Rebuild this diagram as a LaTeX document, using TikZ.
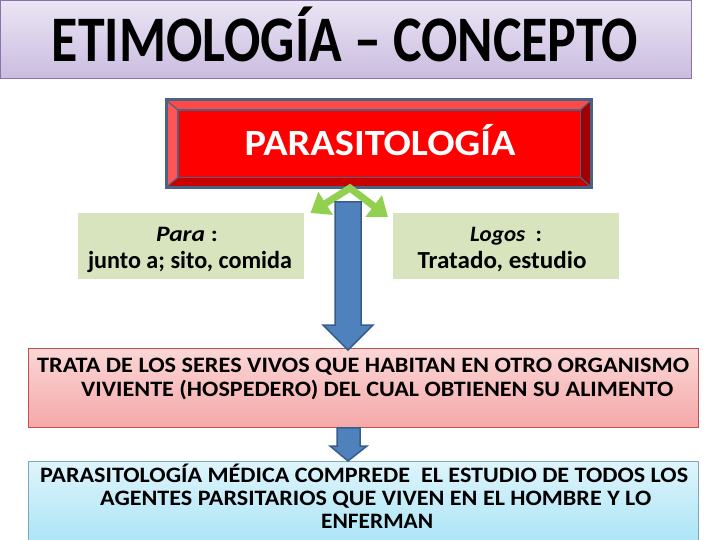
\documentclass[tikz,border=0pt]{standalone}
\usepackage{fontspec}
\setmainfont{Carlito}
\usepackage{graphicx}
\usetikzlibrary{calc,arrows.meta}
\definecolor{titletop}{HTML}{EBE5F4}
\definecolor{titlebot}{HTML}{CABCE0}
\definecolor{titleborder}{HTML}{8A72AC}
\definecolor{redface}{HTML}{FF0000}
\definecolor{redtop}{HTML}{FF4A4A}
\definecolor{redleft}{HTML}{FF5555}
\definecolor{redright}{HTML}{A00000}
\definecolor{redbot}{HTML}{C80000}
\definecolor{bevelline}{HTML}{4A6286}
\definecolor{greenbox}{HTML}{D7E4BD}
\definecolor{greenarrow}{HTML}{92D050}
\definecolor{bluefill}{HTML}{4F81BD}
\definecolor{blueline}{HTML}{385D8A}
\definecolor{pinktop}{HTML}{FBD6D6}
\definecolor{pinkbot}{HTML}{F5A8A8}
\definecolor{pinkborder}{HTML}{C0504D}
\definecolor{cyantop}{HTML}{DEF4FB}
\definecolor{cyanbot}{HTML}{A6E3F6}
\definecolor{cyanborder}{HTML}{7FA7B8}
\newsavebox\fitbox
\newlength\fitlen
\newcommand\fitto[2]{\sbox\fitbox{#2}\setlength\fitlen{\wd\fitbox}\pgfmathsetmacro\fitsx{#1/\fitlen}\scalebox{\fitsx}[1]{\usebox\fitbox}}
\newcommand\fsz[1]{\fontsize{#1}{#1}\selectfont\bfseries}
\tikzset{
  txt/.style={anchor=base, inner sep=0pt, text=black},
  txtw/.style={anchor=base west, inner sep=0pt, text=black},
  panel/.style={draw=none, inner sep=0pt, anchor=north west},
  bluearrow/.style={fill=bluefill, draw=blueline, line width=1.5pt, line join=miter},
  greenarr/.style={draw=greenarrow, line width=7pt, {Triangle[width=26pt,length=18pt]}-{Triangle[width=26pt,length=18pt]}},
}
\begin{document}
\begin{tikzpicture}[x=1pt,y=-1pt]
\useasboundingbox (0,0) rectangle (720,540);
\fill[white] (0,0) rectangle (720,540);
% title
\node[panel, minimum width=691pt, minimum height=78pt, top color=titletop, bottom color=titlebot, draw=titleborder, line width=1pt] (title) at (0,0) {};
\node[txt] (titletext) at (345,62) {\fitto{586}{\fsz{65}ETIMOLOGÍA – CONCEPTO}};
% red bevel box
\node[panel, minimum width=425pt, minimum height=87pt, fill=redface] (para) at (166,100) {};
\coordinate (pi1) at ($(para.north west)+(12,10)$);
\coordinate (pi2) at ($(para.north east)+(-11,10)$);
\coordinate (pi3) at ($(para.south east)+(-11,-10)$);
\coordinate (pi4) at ($(para.south west)+(12,-10)$);
\fill[redtop] (para.north west) -- (para.north east) -- (pi2) -- (pi1) -- cycle;
\fill[redleft] (para.north west) -- (pi1) -- (pi4) -- (para.south west) -- cycle;
\fill[redright] (para.north east) -- (para.south east) -- (pi3) -- (pi2) -- cycle;
\fill[redbot] (para.south west) -- (pi4) -- (pi3) -- (para.south east) -- cycle;
\draw[bevelline, line width=1.2pt] (pi1) rectangle (pi3);
\draw[bevelline, line width=1.2pt] (para.north west) -- (pi1) (para.north east) -- (pi2) (para.south east) -- (pi3) (para.south west) -- (pi4);
\draw[bevelline, line width=3pt] (para.north west) rectangle (para.south east);
\node[txt, text=white] (paratext) at (380,156) {\fitto{271}{\fsz{37}PARASITOLOGÍA}};
% green boxes
\node[panel, minimum width=226pt, minimum height=66pt, fill=greenbox] (lbox) at (78,213) {};
\node[panel, minimum width=226pt, minimum height=66pt, fill=greenbox] (rbox) at (393,213) {};
\node[txt] (l1) at (187,241) {\fitto{62}{\fsz{22}\itshape Para\upshape{} :}};
\node[txt] (l2) at (190,268) {\fitto{204}{\fsz{24.5}junto a; sito, comida}};
\node[txt] (r1) at (506,241) {\fitto{72}{\fsz{22}\itshape Logos\upshape{}\ \ :}};
\node[txt] (r2) at (502,268) {\fitto{169}{\fsz{24.5}Tratado, estudio}};
% green double arrow
\coordinate (apex) at (350,188);
\draw[greenarr, line join=miter] ($(lbox.north east)+(6,0)$) -- (apex) -- ($(rbox.north west)+(-5,4)$);
% pink box
\node[panel, minimum width=670pt, minimum height=79pt, top color=pinktop, bottom color=pinkbot, draw=pinkborder, line width=0.8pt] (pink) at (28,348) {};
\node[txtw] (p1) at (37,372) {\fitto{652}{\fsz{22}TRATA DE LOS SERES VIVOS QUE HABITAN EN OTRO ORGANISMO}};
\node[txtw] (p2) at (81,396) {\fitto{592}{\fsz{22}VIVIENTE (HOSPEDERO) DEL CUAL OBTIENEN SU ALIMENTO}};
% cyan box
\node[panel, minimum width=670pt, minimum height=90pt, top color=cyantop, bottom color=cyanbot, draw=cyanborder, line width=0.8pt] (cyan) at (28,461) {};
\node[txtw] (c1) at (40,482) {\fitto{648}{\fsz{22}PARASITOLOGÍA MÉDICA COMPREDE\ \ EL ESTUDIO DE TODOS LOS}};
\node[txtw] (c2) at (100,505) {\fitto{551}{\fsz{22}AGENTES PARSITARIOS QUE VIVEN EN EL HOMBRE Y LO}};
\node[txtw] (c3) at (321,528) {\fitto{112}{\fsz{22}ENFERMAN}};
% blue arrows
\coordinate (b1top) at (348,202);
\coordinate (b1tip) at (348 ,350);
\draw[bluearrow] ($(b1top)+(-13,0)$) -- ($(b1top)+(13,0)$) -- ($(b1tip)+(13,-25)$) -- ($(b1tip)+(25,-25)$) -- (b1tip) -- ($(b1tip)+(-25,-25)$) -- ($(b1tip)+(-13,-25)$) -- cycle;
\coordinate (b2top) at ($(pink.south west)+(320,0)$);
\coordinate (b2tip) at ($(cyan.north west)+(320,0)$);
\draw[bluearrow] ($(b2top)+(-11,0)$) -- ($(b2top)+(12,0)$) -- ($(b2tip)+(12,-15)$) -- ($(b2tip)+(19,-15)$) -- (b2tip) -- ($(b2tip)+(-18,-15)$) -- ($(b2tip)+(-11,-15)$) -- cycle;
\end{tikzpicture}
\end{document}
